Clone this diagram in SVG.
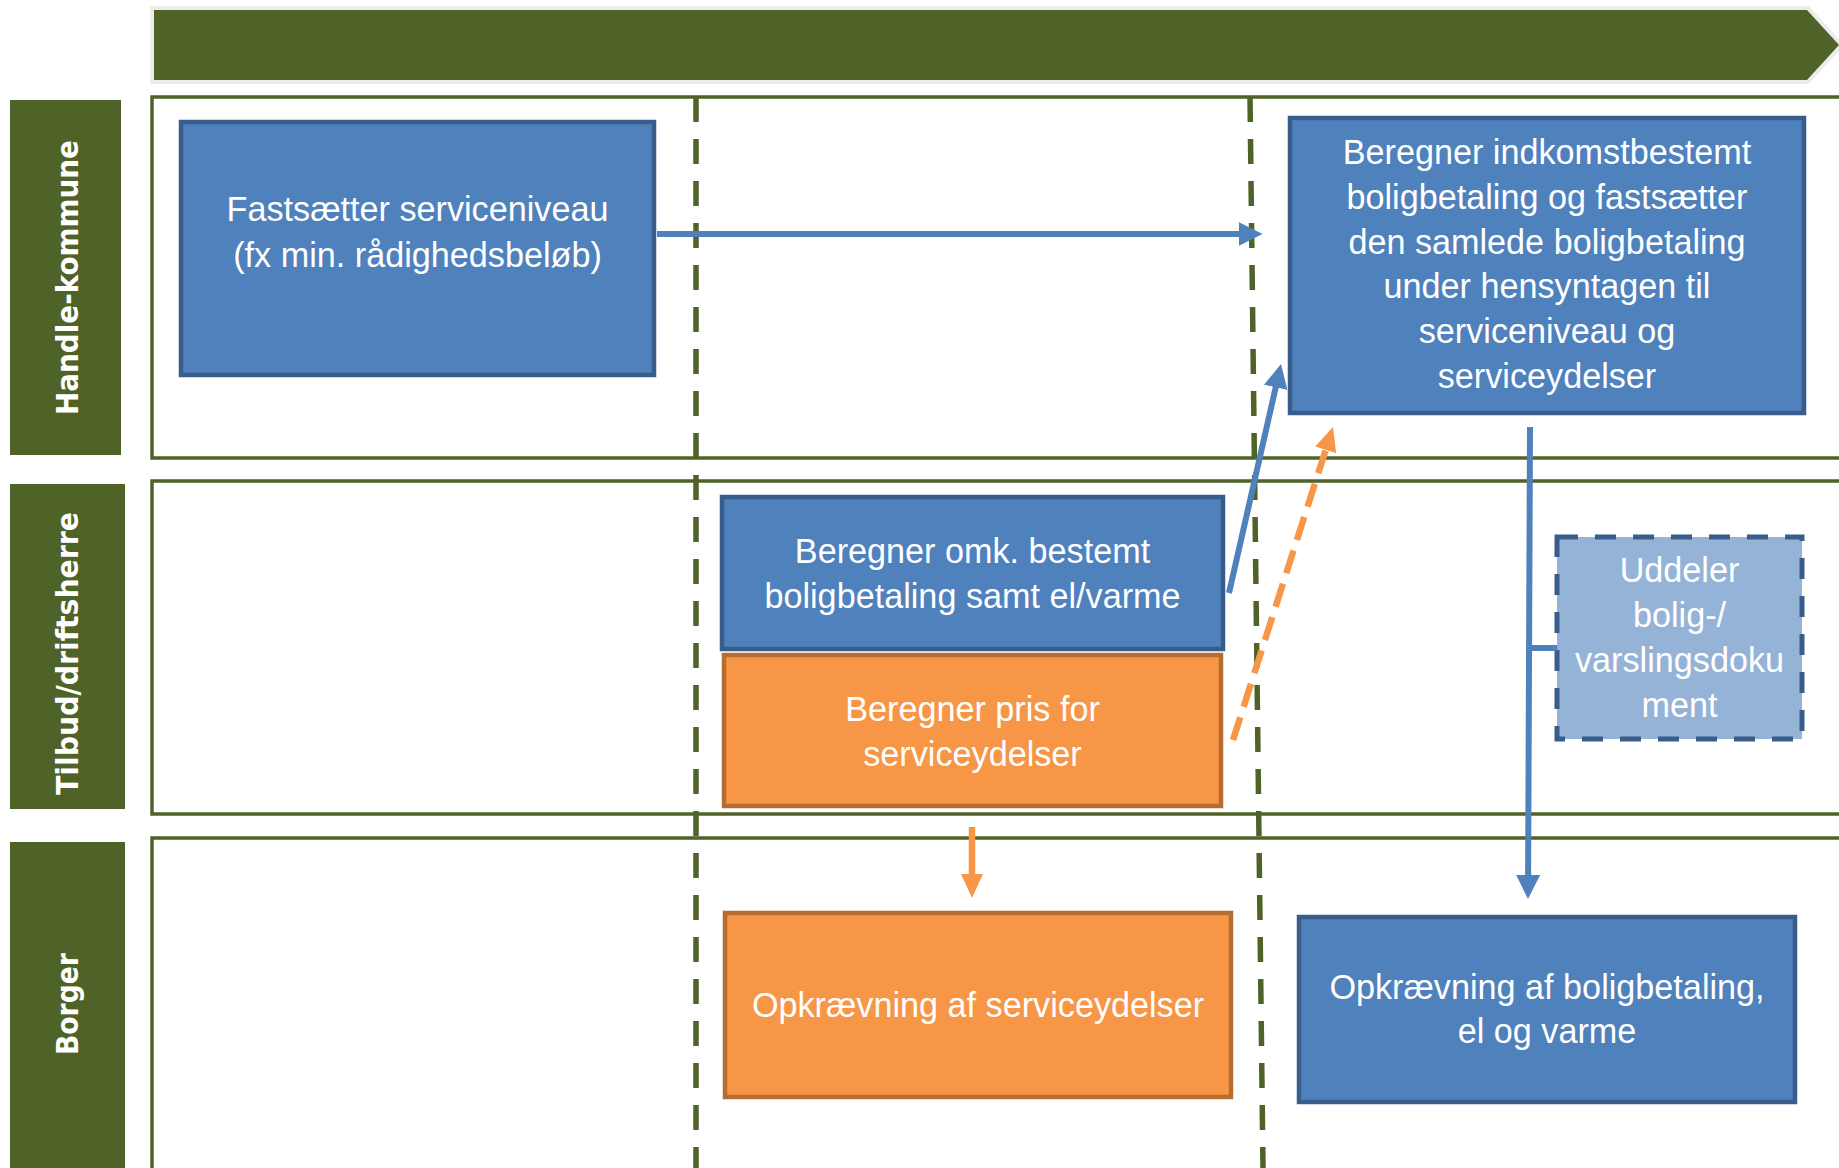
<svg xmlns="http://www.w3.org/2000/svg" width="1839" height="1168" viewBox="0 0 1839 1168">
<style>
.lane{fill:none;stroke:#4F6228;stroke-width:3.5}
.lbl{fill:#4F6228}
.lbltxt{font-family:"DejaVu Sans Condensed","DejaVu Sans",sans-serif;font-weight:bold;font-size:31px;fill:#fff;text-anchor:middle}
.sep{fill:none;stroke:#4F6228;stroke-width:5.5;stroke-dasharray:25 17}
.blue{fill:#4F81BD;stroke:#385D8A;stroke-width:4.5}
.orange{fill:#F79646;stroke:#B66D31;stroke-width:4.5}
.light{fill:#95B3D7;stroke:#385D8A;stroke-width:5;stroke-dasharray:21 17}
.t{font-family:"Liberation Sans",Arial,sans-serif;font-size:34.2px;fill:#fff;text-anchor:middle}
.cb{fill:none;stroke:#4F81BD;stroke-width:6}
.co{fill:none;stroke:#F79646;stroke-width:6.5}
</style>
<defs>
<marker id="ab" markerUnits="userSpaceOnUse" markerWidth="24" markerHeight="24" refX="4" refY="12" orient="auto"><path d="M0,0 L24,12 L0,24 Z" fill="#4F81BD"/></marker>
<marker id="ao" markerUnits="userSpaceOnUse" markerWidth="24" markerHeight="24" refX="4" refY="12" orient="auto"><path d="M0,1 L24,12 L0,23 Z" fill="#F79646"/></marker>
</defs>
<rect width="1839" height="1168" fill="#fff"/>
<g id="banner"><polygon points="154,10 1807,10 1839,45 1807,80 154,80" fill="#4F6228" stroke="#ECECEC" stroke-width="8" paint-order="stroke"/></g>
<g id="lanes">
<rect class="lane" x="152" y="97" width="1720" height="361"/>
<rect class="lane" x="152" y="481" width="1720" height="333"/>
<rect class="lane" x="152" y="838" width="1720" height="400"/>
</g>
<g id="lane-handle-kommune"><rect class="lbl" x="10" y="100" width="111" height="355"/><text class="lbltxt" transform="translate(78,277.5) rotate(-90)" textLength="275" lengthAdjust="spacingAndGlyphs">Handle-kommune</text></g>
<g id="lane-tilbud"><rect class="lbl" x="10" y="484" width="115" height="325"/><text class="lbltxt" transform="translate(78,653.5) rotate(-90)" textLength="283" lengthAdjust="spacingAndGlyphs">Tilbud/driftsherre</text></g>
<g id="lane-borger"><rect class="lbl" x="10" y="842" width="115" height="340"/><text class="lbltxt" transform="translate(78,1004) rotate(-90)" textLength="102" lengthAdjust="spacingAndGlyphs">Borger</text></g>
<g id="separators">
<line class="sep" x1="696" y1="97" x2="696" y2="1168"/>
<line class="sep" x1="1250" y1="97" x2="1263" y2="1168"/>
</g>
<g id="n1"><rect class="blue" x="181" y="122" width="473" height="253"/><text class="t" x="417.5" y="221">Fastsætter serviceniveau</text><text class="t" x="417.5" y="267">(fx min. rådighedsbeløb)</text></g>
<g id="n2"><rect class="blue" x="1290" y="118" width="514" height="295"/>
<text class="t" x="1547" y="164">Beregner indkomstbestemt</text>
<text class="t" x="1547" y="209">boligbetaling og fastsætter</text>
<text class="t" x="1547" y="254">den samlede boligbetaling</text>
<text class="t" x="1547" y="298">under hensyntagen til</text>
<text class="t" x="1547" y="343">serviceniveau og</text>
<text class="t" x="1547" y="388">serviceydelser</text></g>
<g id="n3"><rect class="blue" x="722" y="497" width="501" height="152"/><text class="t" x="972.5" y="563">Beregner omk. bestemt</text><text class="t" x="972.5" y="608">boligbetaling samt el/varme</text></g>
<g id="n4"><rect class="orange" x="724" y="655" width="497" height="151"/><text class="t" x="972.5" y="721">Beregner pris for</text><text class="t" x="972.5" y="766">serviceydelser</text></g>
<g id="n5"><rect class="orange" x="725" y="913" width="506" height="184"/><text class="t" x="978" y="1017">Opkrævning af serviceydelser</text></g>
<g id="n6"><rect class="blue" x="1299" y="917" width="496" height="185"/><text class="t" x="1547" y="999">Opkrævning af boligbetaling,</text><text class="t" x="1547" y="1043">el og varme</text></g>
<g id="n7"><rect class="light" x="1557" y="537" width="245" height="202"/>
<text class="t" x="1679.5" y="582">Uddeler</text>
<text class="t" x="1679.5" y="627">bolig-/</text>
<text class="t" x="1679.5" y="672">varslingsdoku</text>
<text class="t" x="1679.5" y="717">ment</text></g>
<g id="connectors">
<line class="cb" x1="657" y1="234" x2="1242.6" y2="234" marker-end="url(#ab)"/>
<line class="cb" x1="1229" y1="593" x2="1276.6" y2="383.5" marker-end="url(#ab)"/>
<line class="co" x1="1233" y1="740" x2="1326.9" y2="446.1" stroke-dasharray="24 11" marker-end="url(#ao)"/>
<line class="cb" x1="1530" y1="427" x2="1528.1" y2="879" marker-end="url(#ab)"/>
<line class="cb" x1="1530" y1="648" x2="1557" y2="648"/>
<line class="co" x1="972" y1="827" x2="972" y2="878" marker-end="url(#ao)"/>
</g>
</svg>
